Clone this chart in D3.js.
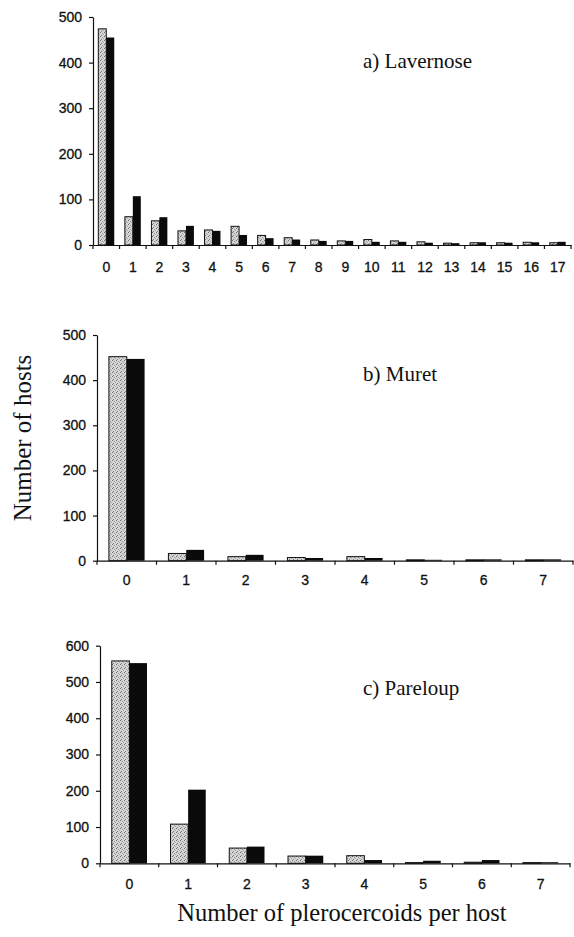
<!DOCTYPE html>
<html>
<head>
<meta charset="utf-8">
<script src="https://cdn.jsdelivr.net/npm/d3@7"></script>
<style>
	body { margin: 0; background: #fff; }
	.axis .tick text { font-family: "Liberation Sans", Arial, sans-serif; font-size: 14px; fill: #111; stroke: #111; stroke-width: 0.3px; }
	.panelLabel, .axisTitle { font-family: "Liberation Serif", "Times New Roman", serif; fill: #111; }
	.axis path, .axis line, .bound { stroke: #111; stroke-width: 1.2; }
</style>
</head>
<body>
<div id="graph"></div>
<script>
// categories (number of plerocercoids per host)
const catsLav = ["0","1","2","3","4","5","6","7","8","9","10","11","12","13","14","15","16","17"];
const catsSmall = ["0","1","2","3","4","5","6","7"];

// a) Lavernose
const lavLight = [474, 62, 53, 31, 33, 41, 21, 16, 11, 9, 12, 9, 7, 4, 5, 5, 6, 5];
const lavDark  = [455, 107, 61, 42, 31, 22, 15, 12, 9, 9, 7, 7, 5, 4, 6, 5, 6, 7];

// b) Muret
const murLight = [452, 16, 9, 7, 9, 2, 2, 2];
const murDark  = [447, 24, 13, 6, 6, 2, 3, 3];

// c) Pareloup
const parLight = [558, 108, 42, 20, 21, 2, 3, 2];
const parDark  = [552, 203, 46, 21, 9, 7, 9, 3];

const yTicksA = [0, 100, 200, 300, 400, 500];
const yTicksC = [0, 100, 200, 300, 400, 500, 600];

const width = 574, height = 937;

var svg = d3.select("#graph")
	.append("svg")
	.attr("width", width)
	.attr("height", height);

// stippled grey for the light bars
var pat = svg.append("defs").append("pattern")
	.attr("id", "stip")
	.attr("patternUnits", "userSpaceOnUse")
	.attr("width", 4)
	.attr("height", 4);
pat.append("rect").attr("width", 4).attr("height", 4).attr("fill", "#d6d6d6");
[[0, 0, "#6f6f6f"], [2, 1, "#959595"], [1, 3, "#828282"], [3, 2, "#a8a8a8"]].forEach((p) => {
	pat.append("rect").attr("x", p[0]).attr("y", p[1]).attr("width", 1).attr("height", 1).attr("fill", p[2]);
});

const panels = [
	{cats: catsLav, light: lavLight, dark: lavDark, yMax: 500, yTicks: yTicksA,
		x0: 93, x1: 571, yTop: 17, yBase: 245, labelPad: 17, label: "a) Lavernose", labelY: 67.5},
	{cats: catsSmall, light: murLight, dark: murDark, yMax: 500, yTicks: yTicksA,
		x0: 97, x1: 573, yTop: 335, yBase: 560.7, labelPad: 14.5, label: "b) Muret", labelY: 381},
	{cats: catsSmall, light: parLight, dark: parDark, yMax: 600, yTicks: yTicksC,
		x0: 100, x1: 570, yTop: 645.7, yBase: 863.3, labelPad: 16, label: "c) Pareloup", labelY: 695}
];

panels.forEach((p) => {
	var xScale = d3.scaleBand()
		.domain(p.cats)
		.range([p.x0, p.x1]);

	var sub = d3.scaleBand()
		.domain(["light", "dark"])
		.range([0, xScale.bandwidth()])
		.paddingOuter(0.667);

	var yScale = d3.scaleLinear()
		.domain([0, p.yMax])
		.range([p.yBase, p.yTop]);

	var g = svg.append("g");

	var rows = p.cats.map((c, i) => ({cat: c, light: p.light[i], dark: p.dark[i]}));

	g.selectAll("rect.light")
		.data(rows)
		.enter().append("rect")
		.attr("class", "light")
		.attr("x", (d) => xScale(d.cat) + sub("light"))
		.attr("y", (d) => yScale(d.light))
		.attr("width", sub.bandwidth())
		.attr("height", (d) => yScale(0) - yScale(d.light))
		.attr("fill", "url(#stip)")
		.attr("stroke", "#111")
		.attr("stroke-width", 1);

	g.selectAll("rect.dark")
		.data(rows)
		.enter().append("rect")
		.attr("class", "dark")
		.attr("x", (d) => xScale(d.cat) + sub("dark"))
		.attr("y", (d) => yScale(d.dark))
		.attr("width", sub.bandwidth())
		.attr("height", (d) => yScale(0) - yScale(d.dark))
		.attr("fill", "#0a0a0a");

	// x axis: labels centred, small ticks on the bin boundaries
	g.append("g")
		.attr("class", "axis")
		.attr("transform", "translate(0," + yScale(0) + ")")
		.call(d3.axisBottom(xScale).tickSize(0).tickPadding(p.labelPad).tickSizeOuter(0));

	var bounds = p.cats.map((c) => xScale(c)).concat([p.x1]);
	g.selectAll("line.bound")
		.data(bounds)
		.enter().append("line")
		.attr("class", "bound")
		.attr("x1", (d) => d)
		.attr("x2", (d) => d)
		.attr("y1", yScale(0))
		.attr("y2", yScale(0) + 4);

	g.append("g")
		.attr("class", "axis")
		.attr("transform", "translate(" + p.x0 + ",0)")
		.call(d3.axisLeft(yScale).tickValues(p.yTicks).tickSize(4).tickPadding(7).tickSizeOuter(0));

	g.append("text")
		.attr("class", "panelLabel")
		.attr("x", 363)
		.attr("y", p.labelY)
		.style("font-size", "21px")
		.text(p.label);
});

svg.append("text")
	.attr("class", "axisTitle")
	.attr("transform", "translate(31,438) rotate(-90)")
	.style("text-anchor", "middle")
	.style("font-size", "25px")
	.text("Number of hosts");

svg.append("text")
	.attr("class", "axisTitle")
	.attr("x", 342)
	.attr("y", 921)
	.style("text-anchor", "middle")
	.style("font-size", "24.5px")
	.text("Number of plerocercoids per host");
</script>
</body>
</html>
